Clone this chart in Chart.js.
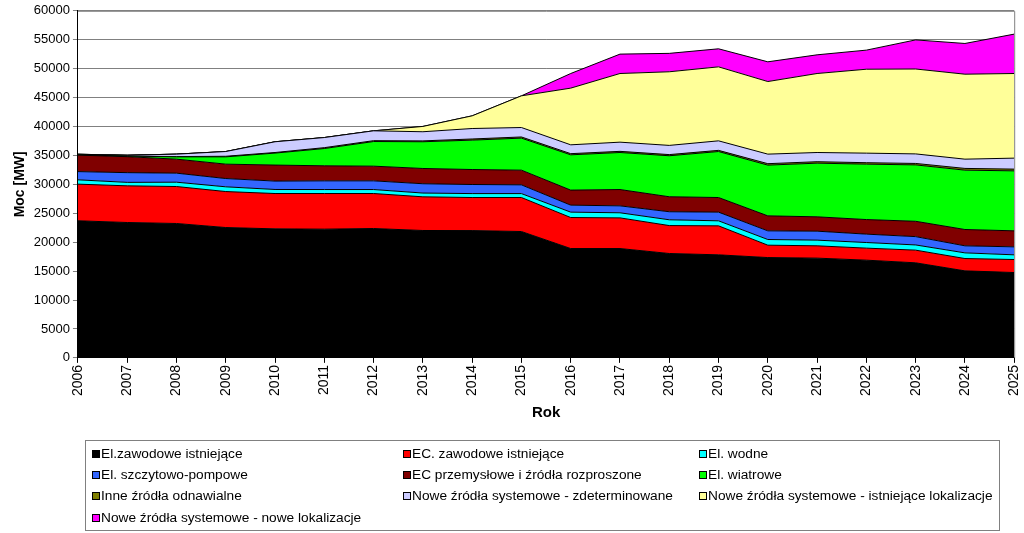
<!DOCTYPE html>
<html><head><meta charset="utf-8">
<script src="https://cdn.jsdelivr.net/npm/chart.js@4.4.1/dist/chart.umd.min.js"></script>
<style>
html,body{margin:0;padding:0;background:#fff;overflow:hidden;}
#wrap{position:relative;width:1024px;height:533px;overflow:hidden;}
#c{position:absolute;left:0;top:0;}
#legend{position:absolute;left:85px;top:440px;width:915px;height:91px;border:1px solid #808080;box-sizing:border-box;font-family:"Liberation Sans",Arial,sans-serif;font-size:13.7px;color:#000;}
.item{position:absolute;white-space:nowrap;line-height:14px;}
.sw{display:inline-block;width:6px;height:6px;border:1px solid #000;margin-right:1px;vertical-align:0px;}
</style></head>
<body>
<div id="wrap">
<canvas id="c" width="1033" height="533"></canvas>
<div id="legend"></div>
</div>
<script>
const years = ['2006','2007','2008','2009','2010','2011','2012','2013','2014','2015','2016','2017','2018','2019','2020','2021','2022','2023','2024','2025'];
const yTicks = [0,5000,10000,15000,20000,25000,30000,35000,40000,45000,50000,55000,60000];

const elZawodowe   = [23700,23400,23230,22530,22300,22250,22360,22020,22000,21840,18900,18900,18040,17810,17340,17240,16890,16430,15040,14750];
const ecZawodowe   = [6330,6340,6390,6220,6110,6160,6050,5820,5720,5880,5360,5300,4830,5010,2140,2130,2080,2190,2130,2250];
const elWodne      = [750,600,750,820,700,690,690,650,680,680,930,880,1000,870,980,980,970,900,980,810];
const elSzczytowo  = [1420,1680,1560,1430,1450,1500,1500,1610,1570,1510,1210,1200,1390,1500,1500,1550,1450,1440,1220,1380];
const ecPrzemyslowe= [2850,2760,2420,2490,2770,2600,2540,2640,2590,2540,2600,2820,2590,2530,2590,2480,2520,2650,2820,2770];
const elWiatrowe   = [50,100,400,1260,2070,2990,4260,4620,5080,5540,6100,6400,7090,7950,8770,9280,9580,9750,10260,10370];
const inneOZE      = [0,0,50,100,100,150,150,150,200,200,200,200,200,200,250,250,250,250,300,300];
const noweZdet     = [100,150,420,820,1860,1750,1700,1580,1810,1630,1530,1590,1590,1650,1650,1590,1650,1650,1600,1900];
const noweIstn     = [0,0,0,0,0,0,0,920,2190,5480,9800,11870,12730,12790,12550,13660,14510,14680,14690,14630];
const noweNowe     = [0,0,0,0,0,0,0,0,0,0,2530,3350,3180,3120,3410,3230,3300,5030,5310,6810];

const seriesNames = ['El.zawodowe istniejące','EC. zawodowe istniejące','El. wodne','El. szczytowo-pompowe','EC przemysłowe i źródła rozproszone','El. wiatrowe','Inne źródła odnawialne','Nowe źródła systemowe - zdeterminowane','Nowe źródła systemowe - istniejące lokalizacje','Nowe źródła systemowe - nowe lokalizacje'];
const seriesData = [elZawodowe,ecZawodowe,elWodne,elSzczytowo,ecPrzemyslowe,elWiatrowe,inneOZE,noweZdet,noweIstn,noweNowe];
const seriesColors = ['#000000','#FF0000','#00FFFF','#3366FF','#800000','#00FF00','#808000','#CCCCFF','#FFFF99','#FF00FF'];

const datasets = seriesData.map((d,i)=>({
  label: seriesNames[i],
  data: d,
  backgroundColor: seriesColors[i],
  borderColor: '#000000',
  borderWidth: 1,
  pointRadius: 0,
  pointHoverRadius: 0,
  tension: 0,
  fill: i===0 ? 'origin' : '-1'
}));

const frame = {
  id:'frame',
  afterDraw(chart){
    const {ctx, chartArea:a} = chart;
    ctx.save();
    ctx.strokeStyle='#808080'; ctx.lineWidth=1;
    ctx.beginPath();
    ctx.moveTo(a.left, a.top+0.5); ctx.lineTo(a.right+0.5, a.top+0.5); ctx.lineTo(a.right+0.5, a.bottom);
    ctx.stroke();
    ctx.restore();
  }
};

const FONT = '"Liberation Sans", Arial, sans-serif';
new Chart(document.getElementById('c'), {
  type:'line',
  data:{labels:years, datasets},
  options:{
    responsive:false,
    animation:false,
    events:[],
    layout:{padding:{top:4,right:3,left:8,bottom:107}},
    plugins:{legend:{display:false},tooltip:{enabled:false}},
    scales:{
      x:{
        offset:false,
        grid:{display:true,drawOnChartArea:false,color:'#000',tickLength:5},
        border:{color:'#000'},
        ticks:{color:'#000',font:{family:FONT,size:14},minRotation:90,maxRotation:90,autoSkip:false,padding:2},
        title:{display:true,text:'Rok',color:'#000',font:{family:FONT,size:15,weight:'bold'},padding:{top:6}}
      },
      y:{
        stacked:true,
        min:0,max:60000,
        afterBuildTicks(scale){ scale.ticks = yTicks.map(v=>({value:v})); },
        grid:{color:'#808080',tickLength:5,drawTicks:true},
        border:{color:'#000'},
        ticks:{color:'#000',font:{family:FONT,size:13},padding:3,callback:v=>String(v)},
        title:{display:true,text:'Moc [MW]',color:'#000',font:{family:FONT,size:14,weight:'bold'},padding:{bottom:2}}
      }
    }
  },
  plugins:[frame]
});

const leg = document.getElementById('legend');
const colX=[6,317,613], rowY=[6,27,48,70];
seriesNames.forEach((n,i)=>{
  const d=document.createElement('div');
  d.className='item';
  d.style.left=colX[i%3]+'px';
  d.style.top=rowY[Math.floor(i/3)]+'px';
  d.innerHTML='<span class="sw" style="background:'+seriesColors[i]+'"></span>';
  d.appendChild(document.createTextNode(n));
  leg.appendChild(d);
});
</script>
</body></html>
